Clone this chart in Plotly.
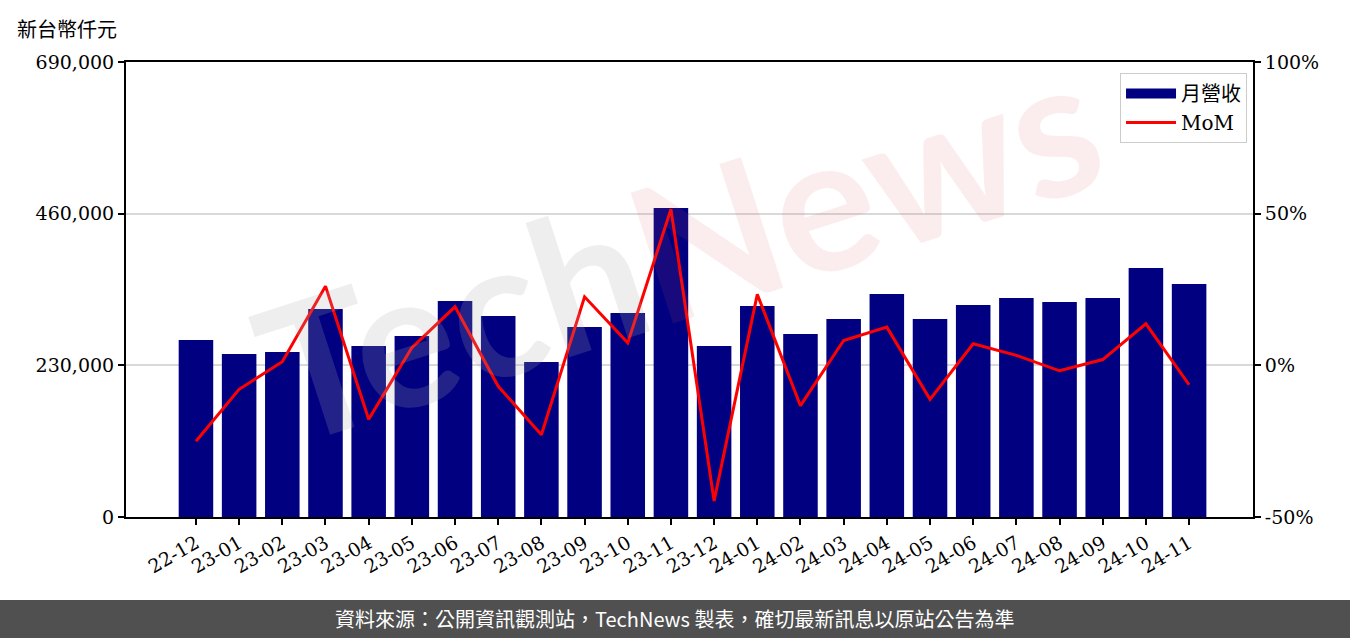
import plotly.graph_objects as go

months = ["22-12", "23-01", "23-02", "23-03", "23-04", "23-05", "23-06", "23-07",
          "23-08", "23-09", "23-10", "23-11", "23-12", "24-01", "24-02", "24-03",
          "24-04", "24-05", "24-06", "24-07", "24-08", "24-09", "24-10", "24-11"]
revenue = [268400, 247200, 250200, 315400, 259300, 274500, 327600, 304800,
           235100, 288100, 309400, 468600, 259300, 320000, 277500, 300300,
           338200, 300300, 321500, 332100, 326000, 332100, 377600, 353300]
mom = [-25.0, -7.9, 1.2, 26.1, -17.8, 5.8, 19.3, -6.9,
       -22.9, 22.6, 7.4, 51.5, -44.7, 23.4, -13.3, 8.2,
       12.6, -11.2, 7.1, 3.3, -1.8, 1.9, 13.7, -6.4]

left_ticks = [0, 230000, 460000, 690000]
left_labels = ["0", "230,000", "460,000", "690,000"]
right_ticks = [-50, 0, 50, 100]
right_labels = ["-50%", "0%", "50%", "100%"]

serif = "DejaVu Serif, Noto Sans CJK TC, serif"
cjk = "Noto Sans CJK TC, sans-serif"
navy = "#000080"

xs = list(range(len(months)))

fig = go.Figure()
fig.add_trace(go.Bar(x=xs, y=revenue, name="月營收", showlegend=False,
                     marker=dict(color=navy, line=dict(width=0)), width=0.8))
# legend proxy for the bars (wide rectangle glyph)
fig.add_trace(go.Scatter(x=[None], y=[None], name="月營收", mode="lines",
                         line=dict(color=navy, width=14)))
fig.add_trace(go.Scatter(x=xs, y=mom, name="MoM", yaxis="y2",
                         mode="lines", line=dict(color="#ff0000", width=3)))

fig.update_layout(
    width=1350, height=638,
    margin=dict(l=126, r=97, t=62, b=121),
    plot_bgcolor="white", paper_bgcolor="white",
    font=dict(family=serif, size=19, color="black"),
    showlegend=True,
    legend=dict(x=0.9947, y=0.9758, xanchor="right", yanchor="top",
                bgcolor="rgba(255,255,255,0.8)", bordercolor="#cccccc", borderwidth=1,
                font=dict(family=serif, size=20), traceorder="normal", itemwidth=50),
    xaxis=dict(range=[-1.62, 24.48], tickmode="array",
               tickvals=xs, ticktext=months,
               tickangle=-30, ticks="outside", ticklen=6, tickwidth=1.5, tickcolor="black",
               showline=True, linecolor="black", linewidth=2, mirror=True,
               showgrid=False, zeroline=False, tickfont=dict(size=19)),
    yaxis=dict(range=[0, 690000], tickmode="array", tickvals=left_ticks,
               ticktext=left_labels, ticks="outside", ticklen=6, tickwidth=1.5,
               tickcolor="black",
               showline=True, linecolor="black", linewidth=2, mirror=True,
               showgrid=True, gridcolor="#d9d9d9", gridwidth=1.5, zeroline=False,
               tickfont=dict(size=19)),
    yaxis2=dict(range=[-50, 100], tickmode="array", tickvals=right_ticks,
                ticktext=right_labels, overlaying="y", side="right",
                ticks="outside", ticklen=6, tickwidth=1.5, tickcolor="black",
                showline=True, linecolor="black", linewidth=2,
                showgrid=False, zeroline=False, tickfont=dict(size=19)),
)

# watermark
fig.add_annotation(xref="paper", yref="paper", x=0.49, y=0.6,
                   text="<span style='color:rgba(170,170,170,0.2)'>Tech</span>"
                        "<span style='color:rgba(220,90,90,0.11)'>News</span>",
                   showarrow=False, textangle=-18,
                   font=dict(family="Lato, sans-serif", size=190, weight="bold"))

# unit title
fig.add_annotation(xref="paper", yref="paper", x=-0.0985, y=1.0747,
                   xanchor="left", yanchor="middle", showarrow=False,
                   text="新台幣仟元", font=dict(family=cjk, size=20, color="black"))

# footer band
fig.add_shape(type="rect", xref="paper", yref="paper",
              x0=-0.2, x1=1.2, y0=-0.1824, y1=-0.3,
              fillcolor="#505050", line=dict(width=0), layer="above")
fig.add_annotation(xref="paper", yref="paper", x=0.487, y=-0.224,
                   xanchor="center", yanchor="middle", showarrow=False,
                   text="資料來源：公開資訊觀測站，TechNews 製表，確切最新訊息以原站公告為準",
                   font=dict(family=cjk, size=20, color="white"))

fig.write_html("out.html", config={"displayModeBar": False},
               post_script="document.body.style.margin='0';")
